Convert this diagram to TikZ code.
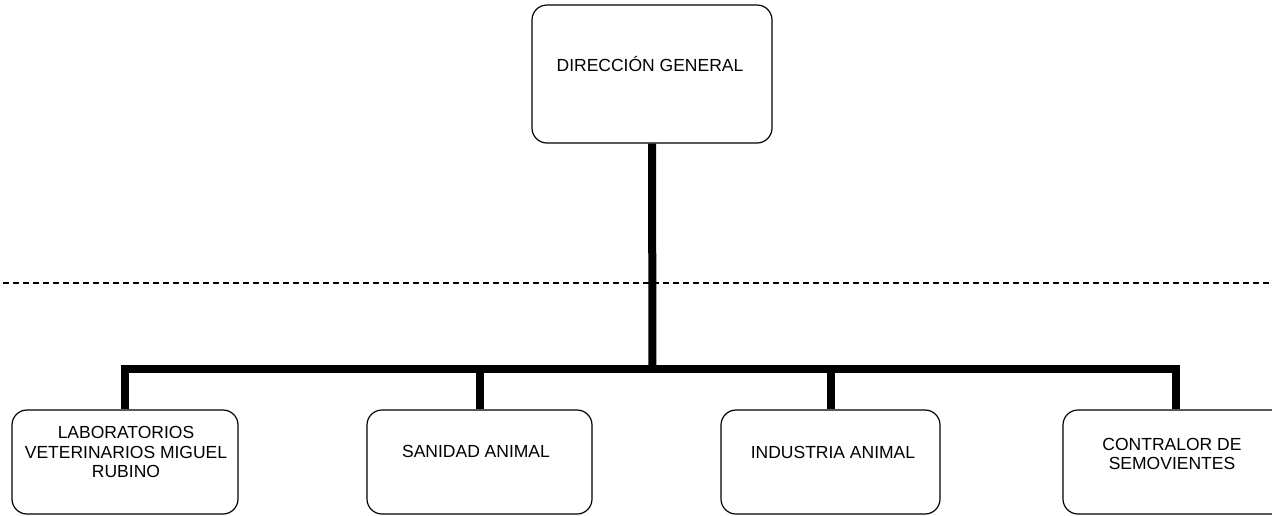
\documentclass[tikz,border=0pt]{standalone}
\usepackage{fontspec}
\setmainfont{Liberation Sans}
\begin{document}
\begin{tikzpicture}[x=1pt,y=-1pt,
  box/.style={draw=black,line width=1.2pt,rounded corners=15pt,inner sep=0pt,fill=none},
  lbl/.style={align=center,inner sep=0pt,font=\fontsize{17.5}{19.5}\selectfont},
  conn/.style={draw=black,line width=8pt,line join=miter},
  sep/.style={draw=black,line width=1.3pt,dash pattern=on 6pt off 4pt}]
\useasboundingbox (0,0) rectangle (1272,515);
% separator
\draw[sep] (3,283) -- (1272,283);
% boxes
\node[box,minimum width=240pt,minimum height=138pt] (top) at (652,74) {};
\node[box,minimum width=226pt,minimum height=104pt] (lab) at (125,462) {};
\node[box,minimum width=225pt,minimum height=104pt] (san) at (479.5,462) {};
\node[box,minimum width=219pt,minimum height=104pt] (ind) at (830.5,462) {};
\node[box,minimum width=225pt,minimum height=104pt] (con) at (1175.5,462) {};
% labels
\node[lbl] (ttop) at (650,64) {DIRECCIÓN GENERAL};
\node[lbl] (tlab) at (126,452) {LABORATORIOS\\VETERINARIOS MIGUEL\\RUBINO};
\node[lbl] (tsan) at (476,451) {SANIDAD ANIMAL};
\node[lbl] (tind) at (833,452) {INDUSTRIA ANIMAL};
\node[lbl] (tcon) at (1172,454) {CONTRALOR DE\\SEMOVIENTES};
% connectors
\coordinate (j) at (652.5,369);
\draw[conn] (top.south) -- (j);
\draw[conn] (j) -| (lab.north);
\draw[conn] (j) -| (san.north);
\draw[conn] (j) -| (ind.north);
\draw[conn] (j) -| (con.north);
\end{tikzpicture}
\end{document}
